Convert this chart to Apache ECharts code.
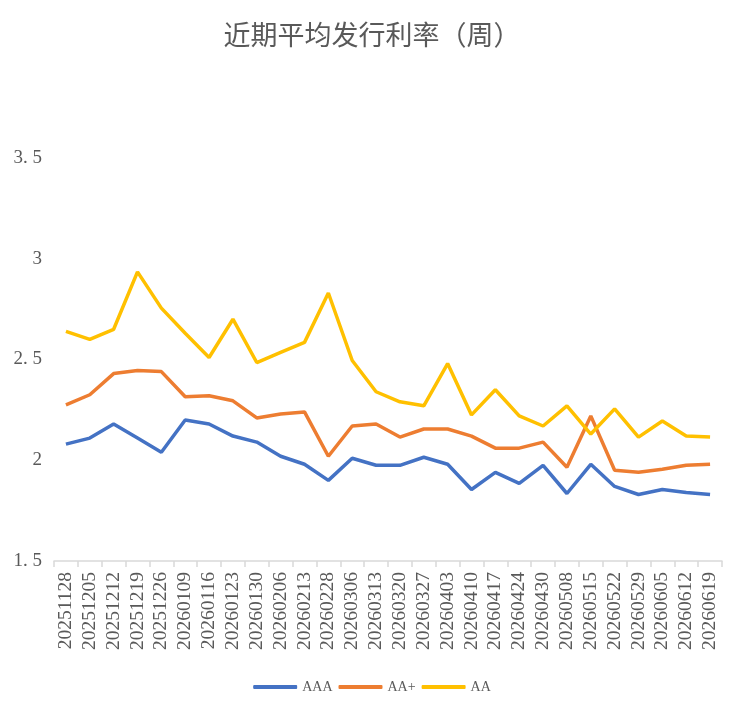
<!DOCTYPE html>
<html><head><meta charset="utf-8">
<script src="https://cdn.jsdelivr.net/npm/echarts@6/dist/echarts.min.js"></script>
<style>html,body{margin:0;padding:0;background:#fff}#c{width:744px;height:714px}</style>
</head><body><div id="c"></div>
<script>
const categories = ["20251128","20251205","20251212","20251219","20251226","20260109","20260116","20260123","20260130","20260206","20260213","20260228","20260306","20260313","20260320","20260327","20260403","20260410","20260417","20260424","20260430","20260508","20260515","20260522","20260529","20260605","20260612","20260619"];
const aaa = [2.08,2.11,2.18,2.11,2.04,2.20,2.18,2.12,2.09,2.02,1.98,1.90,2.01,1.975,1.975,2.015,1.98,1.855,1.94,1.885,1.975,1.835,1.98,1.87,1.83,1.855,1.84,1.83];
const aaPlus = [2.275,2.325,2.43,2.445,2.44,2.315,2.32,2.295,2.21,2.23,2.24,2.02,2.17,2.18,2.115,2.155,2.155,2.12,2.06,2.06,2.09,1.965,2.22,1.95,1.94,1.955,1.975,1.98];
const aa = [2.64,2.60,2.65,2.935,2.755,2.63,2.51,2.70,2.485,2.535,2.585,2.83,2.495,2.34,2.29,2.27,2.48,2.225,2.35,2.22,2.17,2.27,2.13,2.255,2.115,2.195,2.12,2.115];
const seriesNames = ["AAA","AA+","AA"];
const colors = ["#4472C4","#ED7D31","#FFC000"];
const yTicks = {min:1.5,max:3.5,interval:0.5};

const chart = echarts.init(document.getElementById('c'));
const numFont = '"Liberation Serif","DejaVu Serif",serif';
chart.setOption({
  animation:false,
  backgroundColor:'#fff',
  title:{text:'近期平均发行利率（周）',left:'center',top:16,
    textStyle:{fontFamily:'"Noto Sans CJK SC"',fontSize:27,fontWeight:'normal',color:'#595959'}},
  color:colors,
  grid:{left:54,right:22,top:158,bottom:153,containLabel:false},
  legend:{top:675,left:'center',itemWidth:44,itemHeight:4,itemGap:6,
    icon:'roundRect',
    textStyle:{fontFamily:numFont,fontSize:14,color:'#595959'},
    data:seriesNames},
  xAxis:{type:'category',data:categories,boundaryGap:true,
    axisLine:{lineStyle:{color:'#D9D9D9',width:1.5}},
    axisTick:{show:true,length:6,lineStyle:{color:'#D9D9D9',width:1.5}},
    axisLabel:{rotate:90,interval:0,margin:11,fontFamily:numFont,fontSize:19.5,color:'#595959'}},
  yAxis:{type:'value',min:yTicks.min,max:yTicks.max,interval:yTicks.interval,
    axisLine:{show:false},axisTick:{show:false},splitLine:{show:false},
    axisLabel:{margin:12,fontFamily:numFont,fontSize:19,color:'#595959',
      formatter:v=>String(v).replace('.','. ')}},
  series:[
    {name:seriesNames[0],type:'line',data:aaa,symbol:'none',lineStyle:{width:3.5,color:colors[0]}},
    {name:seriesNames[1],type:'line',data:aaPlus,symbol:'none',lineStyle:{width:3.5,color:colors[1]}},
    {name:seriesNames[2],type:'line',data:aa,symbol:'none',lineStyle:{width:3.5,color:colors[2]}}
  ]
});
</script></body></html>
